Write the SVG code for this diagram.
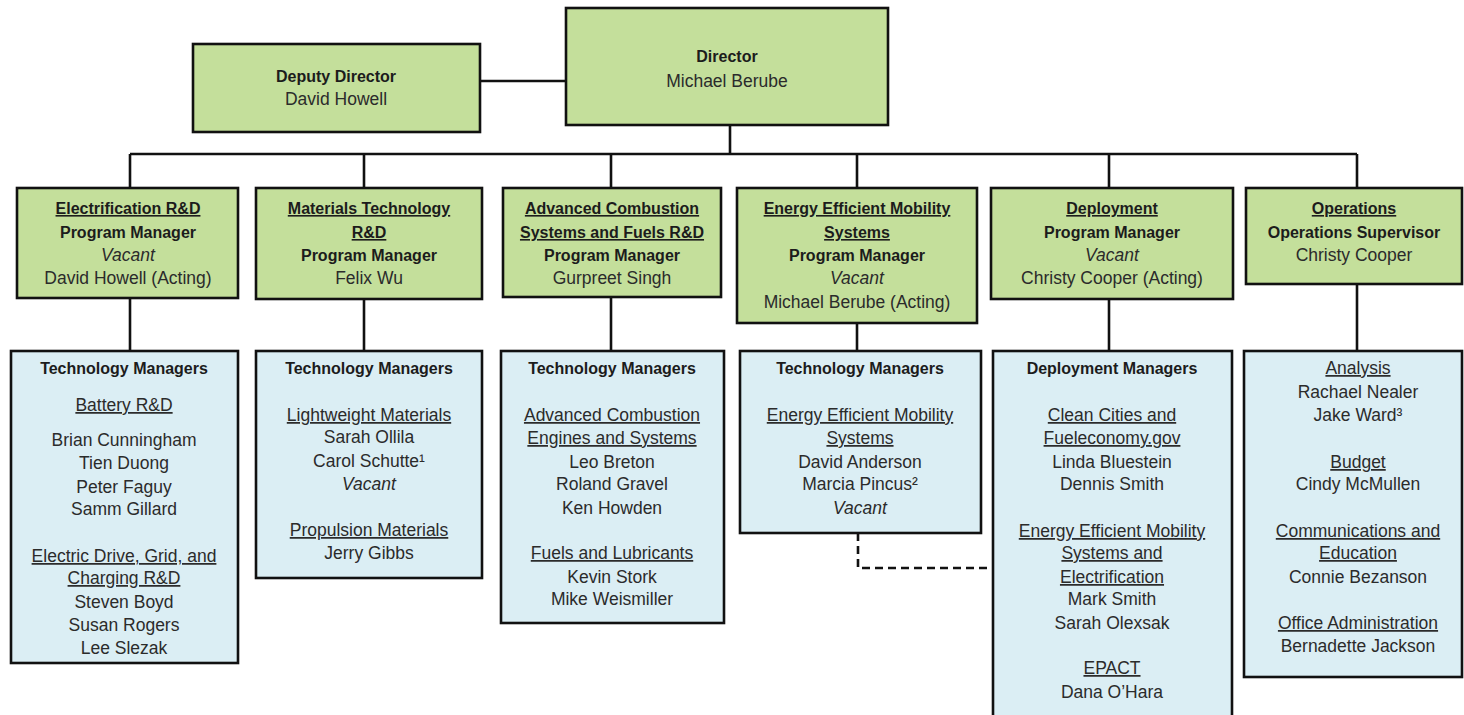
<svg xmlns="http://www.w3.org/2000/svg" width="1464" height="715" viewBox="0 0 1464 715">
  <style>
    .g { fill: #c4df9b; stroke: #111; stroke-width: 2.6; }
    .b { fill: #dbeef4; stroke: #111; stroke-width: 2.6; }
    .ln { fill: none; stroke: #111; stroke-width: 2.6; }
    .dash { fill: none; stroke: #111; stroke-width: 2.6; stroke-dasharray: 8 5; }
    text { font-family: "Liberation Sans", Arial, sans-serif; font-size: 17.5px; fill: #2b2b2b; text-anchor: middle; }
    .bd { font-weight: bold; font-size: 16px; fill: #1c1c1c; }
    .u { text-decoration: underline; }
    .i { font-style: italic; }
  </style>

  <rect width="1464" height="715" fill="#ffffff"/>

  <!-- connectors -->
  <g id="connectors">
    <line class="ln" x1="480" y1="81" x2="565" y2="81"/>
    <line class="ln" x1="730" y1="125" x2="730" y2="154"/>
    <line class="ln" x1="130" y1="154" x2="1357" y2="154"/>
    <line class="ln" x1="130" y1="154" x2="130" y2="188"/>
    <line class="ln" x1="364" y1="154" x2="364" y2="188"/>
    <line class="ln" x1="611" y1="154" x2="611" y2="188"/>
    <line class="ln" x1="857" y1="154" x2="857" y2="188"/>
    <line class="ln" x1="1109" y1="154" x2="1109" y2="188"/>
    <line class="ln" x1="1357" y1="154" x2="1357" y2="188"/>
    <line class="ln" x1="130" y1="298" x2="130" y2="351"/>
    <line class="ln" x1="364" y1="299" x2="364" y2="351"/>
    <line class="ln" x1="611" y1="297" x2="611" y2="351"/>
    <line class="ln" x1="857" y1="323" x2="857" y2="351"/>
    <line class="ln" x1="1109" y1="299" x2="1109" y2="351"/>
    <line class="ln" x1="1357" y1="284" x2="1357" y2="351"/>
    <polyline class="dash" points="858,533 858,568 993,568"/>
  </g>

  <!-- leadership -->
  <g id="deputy-director">
    <rect class="g" x="193" y="44" width="287" height="88"/>
    <text class="bd" x="336" y="82">Deputy Director</text>
    <text x="336" y="105">David Howell</text>
  </g>
  <g id="director">
    <rect class="g" x="566" y="8" width="322" height="117"/>
    <text class="bd" x="727" y="62">Director</text>
    <text x="727" y="87">Michael Berube</text>
  </g>

  <!-- program offices -->
  <g id="electrification">
    <rect class="g" x="17" y="188" width="221" height="110"/>
    <text class="bd u" x="128" y="214">Electrification R&amp;D</text>
    <text class="bd" x="128" y="238">Program Manager</text>
    <text class="i" x="128" y="261">Vacant</text>
    <text x="128" y="284">David Howell (Acting)</text>
  </g>
  <g id="materials">
    <rect class="g" x="256" y="188" width="226" height="111"/>
    <text class="bd u" x="369" y="214">Materials Technology</text>
    <text class="bd u" x="369" y="238">R&amp;D</text>
    <text class="bd" x="369" y="261">Program Manager</text>
    <text x="369" y="284">Felix Wu</text>
  </g>
  <g id="combustion">
    <rect class="g" x="503" y="188" width="218" height="109"/>
    <text class="bd u" x="612" y="214">Advanced Combustion</text>
    <text class="bd u" x="612" y="238">Systems and Fuels R&amp;D</text>
    <text class="bd" x="612" y="261">Program Manager</text>
    <text x="612" y="284">Gurpreet Singh</text>
  </g>
  <g id="mobility">
    <rect class="g" x="737" y="188" width="240" height="135"/>
    <text class="bd u" x="857" y="214">Energy Efficient Mobility</text>
    <text class="bd u" x="857" y="238">Systems</text>
    <text class="bd" x="857" y="261">Program Manager</text>
    <text class="i" x="857" y="284">Vacant</text>
    <text x="857" y="308">Michael Berube (Acting)</text>
  </g>
  <g id="deployment">
    <rect class="g" x="991" y="188" width="242" height="111"/>
    <text class="bd u" x="1112" y="214">Deployment</text>
    <text class="bd" x="1112" y="238">Program Manager</text>
    <text class="i" x="1112" y="261">Vacant</text>
    <text x="1112" y="284">Christy Cooper (Acting)</text>
  </g>
  <g id="operations">
    <rect class="g" x="1246" y="188" width="216" height="96"/>
    <text class="bd u" x="1354" y="214">Operations</text>
    <text class="bd" x="1354" y="238">Operations Supervisor</text>
    <text x="1354" y="261">Christy Cooper</text>
  </g>

  <!-- staff -->
  <g id="electrification-staff">
    <rect class="b" x="11" y="351" width="227" height="312"/>
    <text class="bd" x="124" y="374">Technology Managers</text>
    <text class="u" x="124" y="411">Battery R&amp;D</text>
    <text x="124" y="446">Brian Cunningham</text>
    <text x="124" y="469">Tien Duong</text>
    <text x="124" y="493">Peter Faguy</text>
    <text x="124" y="515">Samm Gillard</text>
    <text class="u" x="124" y="562">Electric Drive, Grid, and</text>
    <text class="u" x="124" y="584">Charging R&amp;D</text>
    <text x="124" y="608">Steven Boyd</text>
    <text x="124" y="631">Susan Rogers</text>
    <text x="124" y="654">Lee Slezak</text>
  </g>
  <g id="materials-staff">
    <rect class="b" x="256" y="351" width="226" height="227"/>
    <text class="bd" x="369" y="374">Technology Managers</text>
    <text class="u" x="369" y="421">Lightweight Materials</text>
    <text x="369" y="443">Sarah Ollila</text>
    <text x="369" y="467">Carol Schutte¹</text>
    <text class="i" x="369" y="490">Vacant</text>
    <text class="u" x="369" y="536">Propulsion Materials</text>
    <text x="369" y="559">Jerry Gibbs</text>
  </g>
  <g id="combustion-staff">
    <rect class="b" x="501" y="351" width="223" height="272"/>
    <text class="bd" x="612" y="374">Technology Managers</text>
    <text class="u" x="612" y="421">Advanced Combustion</text>
    <text class="u" x="612" y="444">Engines and Systems</text>
    <text x="612" y="468">Leo Breton</text>
    <text x="612" y="490">Roland Gravel</text>
    <text x="612" y="514">Ken Howden</text>
    <text class="u" x="612" y="559">Fuels and Lubricants</text>
    <text x="612" y="583">Kevin Stork</text>
    <text x="612" y="605">Mike Weismiller</text>
  </g>
  <g id="mobility-staff">
    <rect class="b" x="740" y="351" width="241" height="182"/>
    <text class="bd" x="860" y="374">Technology Managers</text>
    <text class="u" x="860" y="421">Energy Efficient Mobility</text>
    <text class="u" x="860" y="444">Systems</text>
    <text x="860" y="468">David Anderson</text>
    <text x="860" y="490">Marcia Pincus²</text>
    <text class="i" x="860" y="514">Vacant</text>
  </g>
  <g id="deployment-staff">
    <rect class="b" x="993" y="351" width="239" height="380"/>
    <text class="bd" x="1112" y="374">Deployment Managers</text>
    <text class="u" x="1112" y="421">Clean Cities and</text>
    <text class="u" x="1112" y="444">Fueleconomy.gov</text>
    <text x="1112" y="468">Linda Bluestein</text>
    <text x="1112" y="490">Dennis Smith</text>
    <text class="u" x="1112" y="537">Energy Efficient Mobility</text>
    <text class="u" x="1112" y="559">Systems and</text>
    <text class="u" x="1112" y="583">Electrification</text>
    <text x="1112" y="605">Mark Smith</text>
    <text x="1112" y="629">Sarah Olexsak</text>
    <text class="u" x="1112" y="674">EPACT</text>
    <text x="1112" y="698">Dana O’Hara</text>
  </g>
  <g id="operations-staff">
    <rect class="b" x="1244" y="351" width="218" height="326"/>
    <text class="u" x="1358" y="374">Analysis</text>
    <text x="1358" y="398">Rachael Nealer</text>
    <text x="1358" y="421">Jake Ward³</text>
    <text class="u" x="1358" y="468">Budget</text>
    <text x="1358" y="490">Cindy McMullen</text>
    <text class="u" x="1358" y="537">Communications and</text>
    <text class="u" x="1358" y="559">Education</text>
    <text x="1358" y="583">Connie Bezanson</text>
    <text class="u" x="1358" y="629">Office Administration</text>
    <text x="1358" y="652">Bernadette Jackson</text>
  </g>
</svg>
